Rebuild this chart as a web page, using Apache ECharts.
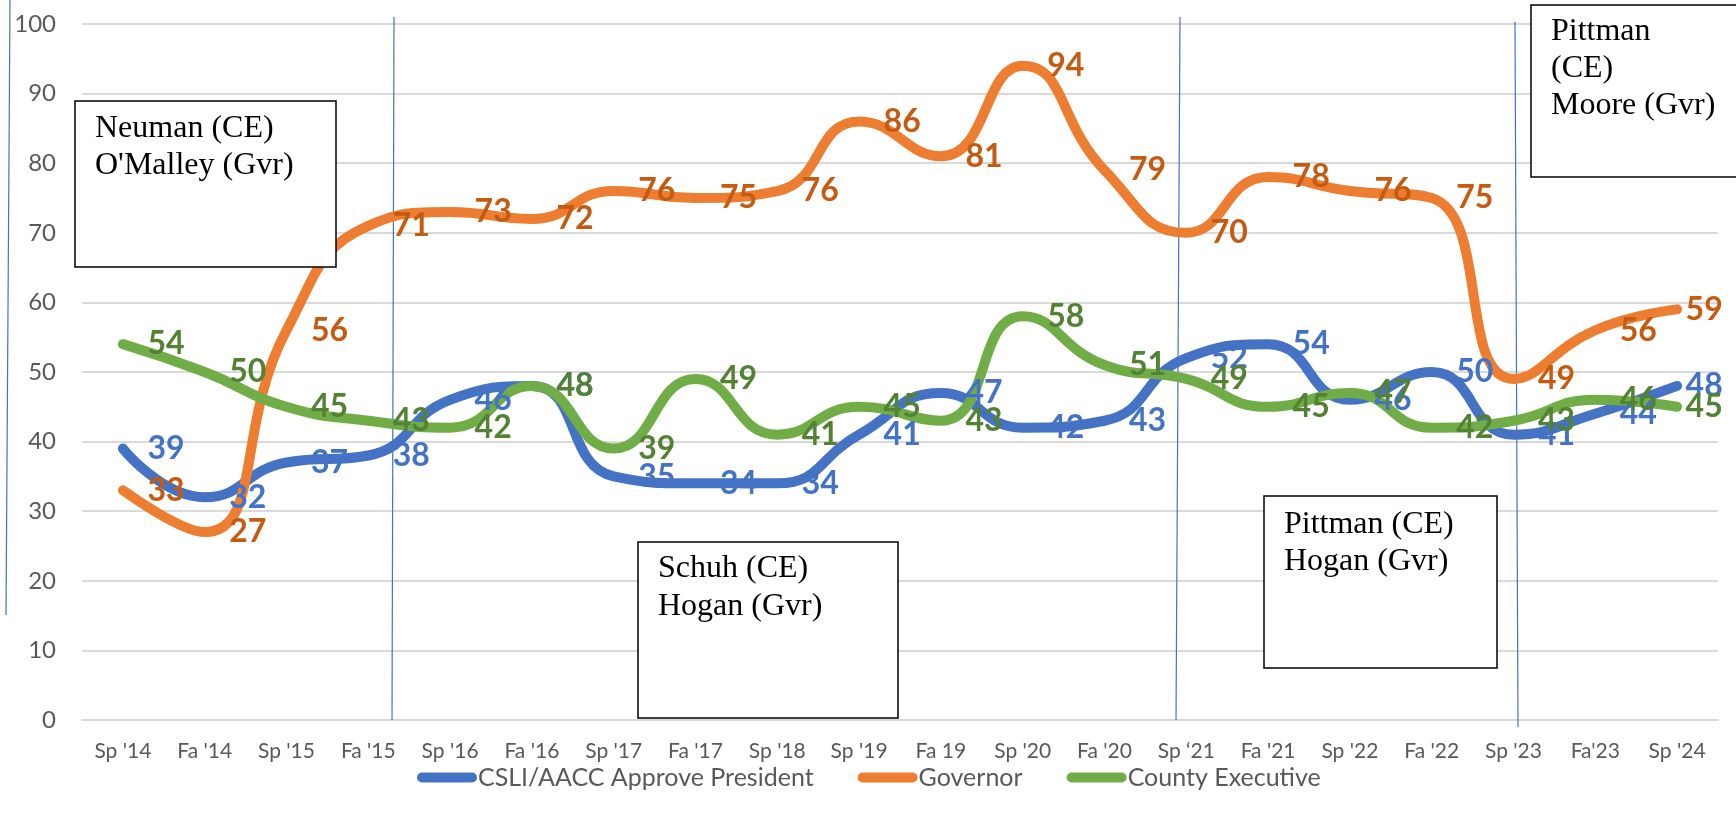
<!DOCTYPE html>
<html>
<head>
<meta charset="utf-8">
<style>
  body { margin: 0; background: #fff; }
  #main { width: 1736px; height: 814px; }
</style>
</head>
<body>
<div id="main"></div>
<script src="https://cdn.jsdelivr.net/npm/echarts/dist/echarts.min.js"></script>
<script>
// terms
var terms = ["Sp '14", "Fa '14", "Sp '15", "Fa '15", "Sp '16", "Fa '16", "Sp '17", "Fa '17", "Sp '18", "Sp '19",
  "Fa 19", "Sp '20", "Fa '20", "Sp \u201821", "Fa '21", "Sp '22", "Fa '22", "Sp '23", "Fa'23", "Sp '24"];

// approval %
var president = [39, 32, 37, 38, 46, 48, 35, 34, 34, 41, 47, 42, 43, 52, 54, 46, 50, 41, 44, 48];
var governor = [33, 27, 56, 71, 73, 72, 76, 75, 76, 86, 81, 94, 79, 70, 78, 76, 75, 49, 56, 59];
var countyExec = [54, 50, 45, 43, 42, 48, 39, 49, 41, 45, 43, 58, 51, 49, 45, 47, 42, 43, 46, 45];

var yTicks = [0, 10, 20, 30, 40, 50, 60, 70, 80, 90, 100];

var chart = echarts.init(document.getElementById('main'));

function makeSeries(name, data, color, labelColor) {
  // last label sits closer so it stays inside the chart, like excel does
  var pts = data.map(function (v, i) {
    if (i === data.length - 1) return { value: v, label: { distance: 8 } };
    return v;
  });
  return {
    name: name,
    type: 'line',
    data: pts,
    smooth: 0.5,
    symbol: 'circle',
    symbolSize: 1,
    itemStyle: { color: color },
    lineStyle: { color: color, width: 10, cap: 'round', join: 'round' },
    label: {
      show: true,
      position: 'right',
      distance: 24,
      color: labelColor,
      fontFamily: 'Lato',
      fontWeight: 'bold',
      fontSize: 32
    },
    emphasis: { disabled: true },
    animation: false
  };
}

var capsule = 'path://M5,0 L55,0 A5,5 0 0 1 55,10 L5,10 A5,5 0 0 1 5,0 Z';
var serif = '32px "Liberation Serif"';

function box(x, y, w, h) {
  return { type: 'rect', z: 100, shape: { x: x, y: y, width: w, height: h },
    style: { fill: '#fff', stroke: '#000', lineWidth: 1.5 } };
}
function note(x, y, txt, lh) {
  return { type: 'text', z: 101, x: x, y: y,
    style: { text: txt, font: serif, fill: '#000', lineHeight: lh, verticalAlign: 'top' } };
}
function vline(x1, y1, x2, y2) {
  return { type: 'line', z: 1, shape: { x1: x1, y1: y1, x2: x2, y2: y2 },
    style: { stroke: '#4472C4', lineWidth: 1.2 } };
}

var option = {
  backgroundColor: '#fff',
  animation: false,
  grid: { left: 82, right: 18, top: 24, bottom: 94 },
  legend: {
    left: 412,
    top: 760,
    itemWidth: 60,
    itemHeight: 10,
    itemGap: 44,
    icon: capsule,
    textStyle: { color: '#595959', fontFamily: 'Lato', fontSize: 25, padding: [0, 0, 0, -4] },
    data: ['CSLI/AACC Approve President', 'Governor', 'County Executive']
  },
  xAxis: {
    type: 'category',
    data: terms,
    boundaryGap: true,
    axisTick: { show: false },
    axisLine: { show: true, lineStyle: { color: '#D9D9D9', width: 2 } },
    axisLabel: { interval: 0, color: '#595959', fontFamily: 'Lato', fontSize: 21, margin: 21 }
  },
  yAxis: {
    type: 'value',
    min: yTicks[0],
    max: yTicks[yTicks.length - 1],
    interval: 10,
    axisLine: { show: false },
    axisTick: { show: false },
    axisLabel: { color: '#595959', fontFamily: 'Lato', fontSize: 24, margin: 26 },
    splitLine: { lineStyle: { color: '#D9D9D9', width: 2 } }
  },
  series: [
    makeSeries('CSLI/AACC Approve President', president, '#4472C4', '#4472C4'),
    makeSeries('Governor', governor, '#ED7D31', '#C55A11'),
    makeSeries('County Executive', countyExec, '#70AD47', '#548235')
  ],
  graphic: [
    vline(10, 0, 6, 615),
    vline(394, 17, 392, 720),
    vline(1180, 17, 1176, 720),
    vline(1515, 22, 1518, 727),
    box(75, 101, 261, 166),
    note(95, 110, "Neuman (CE)\nO'Malley (Gvr)", 37),
    box(638, 542, 260, 176),
    note(658, 550, 'Schuh (CE)\nHogan (Gvr)', 38),
    box(1264, 496, 233, 172),
    note(1284, 506, 'Pittman (CE)\nHogan (Gvr)', 37),
    box(1531, 5, 210, 172),
    note(1551, 13, 'Pittman\n(CE)\nMoore (Gvr)', 37)
  ]
};

chart.setOption(option);
</script>
</body>
</html>
